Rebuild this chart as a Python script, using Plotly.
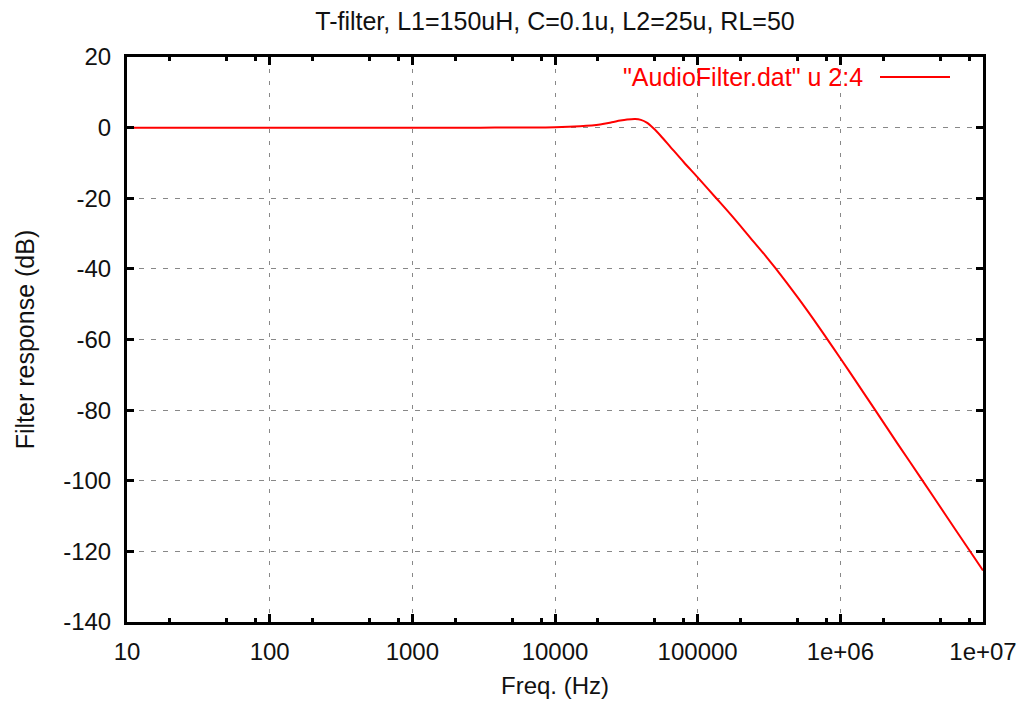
import plotly.graph_objects as go

# Data
freq_hz = [10, 100, 1000, 3000, 6000, 10000, 15000, 20700, 25000, 28700, 32000,
           36500, 40000, 44000, 49000, 55000, 64500, 80000, 100000, 135000,
           178000, 234000, 302000, 351000, 501000, 631000, 794000, 1000000,
           1260000, 1710000, 2510000, 3720000, 5620000, 7940000, 10000000]
response_db = [0.0, 0.0, 0.0, 0.0, 0.03, 0.1, 0.4, 0.9, 1.5, 2.0, 2.3,
               2.45, 2.2, 1.4, -0.2, -2.3, -5.5, -9.8, -14.1, -20.0,
               -25.5, -31.2, -36.5, -39.8, -48.0, -53.6, -59.4, -65.3,
               -71.3, -79.3, -89.4, -99.6, -110.4, -119.4, -125.4]

x_tickvals = [10, 100, 1000, 10000, 100000, 1000000, 10000000]
x_ticktext = ["10", "100", "1000", "10000", "100000", "1e+06", "1e+07"]
x_minor = [m * 10 ** d for d in range(1, 7) for m in (2, 5, 8)]
y_tickvals = [20, 0, -20, -40, -60, -80, -100, -120, -140]
y_ticktext = ["20", "0", "-20", "-40", "-60", "-80", "-100", "-120", "-140"]

title_text = "T-filter, L1=150uH, C=0.1u, L2=25u, RL=50"
legend_text = '"AudioFilter.dat" u 2:4'
font_family = "Liberation Sans, Arial, Helvetica, sans-serif"

fig = go.Figure()
fig.add_trace(go.Scatter(
    x=freq_hz, y=response_db, mode="lines",
    line=dict(color="#ff0000", width=2, shape="spline", smoothing=0.9),
    showlegend=False, hoverinfo="skip",
))

fig.update_layout(
    width=1019, height=702,
    margin=dict(l=127, r=36, t=57, b=80, autoexpand=False),
    paper_bgcolor="white", plot_bgcolor="white",
    font=dict(family=font_family, size=24, color="#111111"),
    title=dict(text=title_text, x=(127 + 983) / 2 / 1019, xanchor="center",
               y=1 - 21 / 702, yanchor="middle",
               font=dict(size=25, family=font_family, color="#111111")),
    xaxis=dict(
        type="log", range=[1, 7], automargin=False,
        tickmode="array", tickvals=x_tickvals, ticktext=x_ticktext,
        ticks="inside", ticklen=8, tickwidth=2.5, tickcolor="black",
        showline=True, linecolor="black", linewidth=3, mirror="ticks",
        showgrid=True, gridcolor="#888888", gridwidth=1, griddash="4px,8px",
        zeroline=False,
        minor=dict(tickmode="array", tickvals=x_minor, ticks="inside",
                   ticklen=4, tickwidth=2.5, tickcolor="black", showgrid=False),
        title=dict(text="Freq. (Hz)", font=dict(size=24), standoff=14),
        tickfont=dict(size=24),
        ticklabelstandoff=6,
    ),
    yaxis=dict(
        range=[-140, 20], automargin=False,
        tickmode="array", tickvals=y_tickvals, ticktext=y_ticktext,
        ticks="inside", ticklen=7, tickwidth=2.5, tickcolor="black",
        showline=True, linecolor="black", linewidth=3, mirror="ticks",
        showgrid=True, gridcolor="#888888", gridwidth=1, griddash="5px,7px",
        zeroline=False,
        title=dict(text="Filter response (dB)", font=dict(size=25), standoff=22),
        tickfont=dict(size=24),
        ticklabelstandoff=8,
    ),
)

# gnuplot-style key: text on the left, line sample on the right
fig.add_annotation(
    xref="paper", yref="paper", x=(865 - 127) / 856, y=(622 - 77) / 565,
    text=legend_text, showarrow=False, xanchor="right", yanchor="middle",
    font=dict(size=25, color="#ff0000", family=font_family),
)
fig.add_shape(
    type="line", xref="paper", yref="paper",
    x0=(880 - 127) / 856, x1=(950 - 127) / 856,
    y0=(622 - 77) / 565, y1=(622 - 77) / 565,
    line=dict(color="#ff0000", width=2),
)

fig.write_html("out.html")
